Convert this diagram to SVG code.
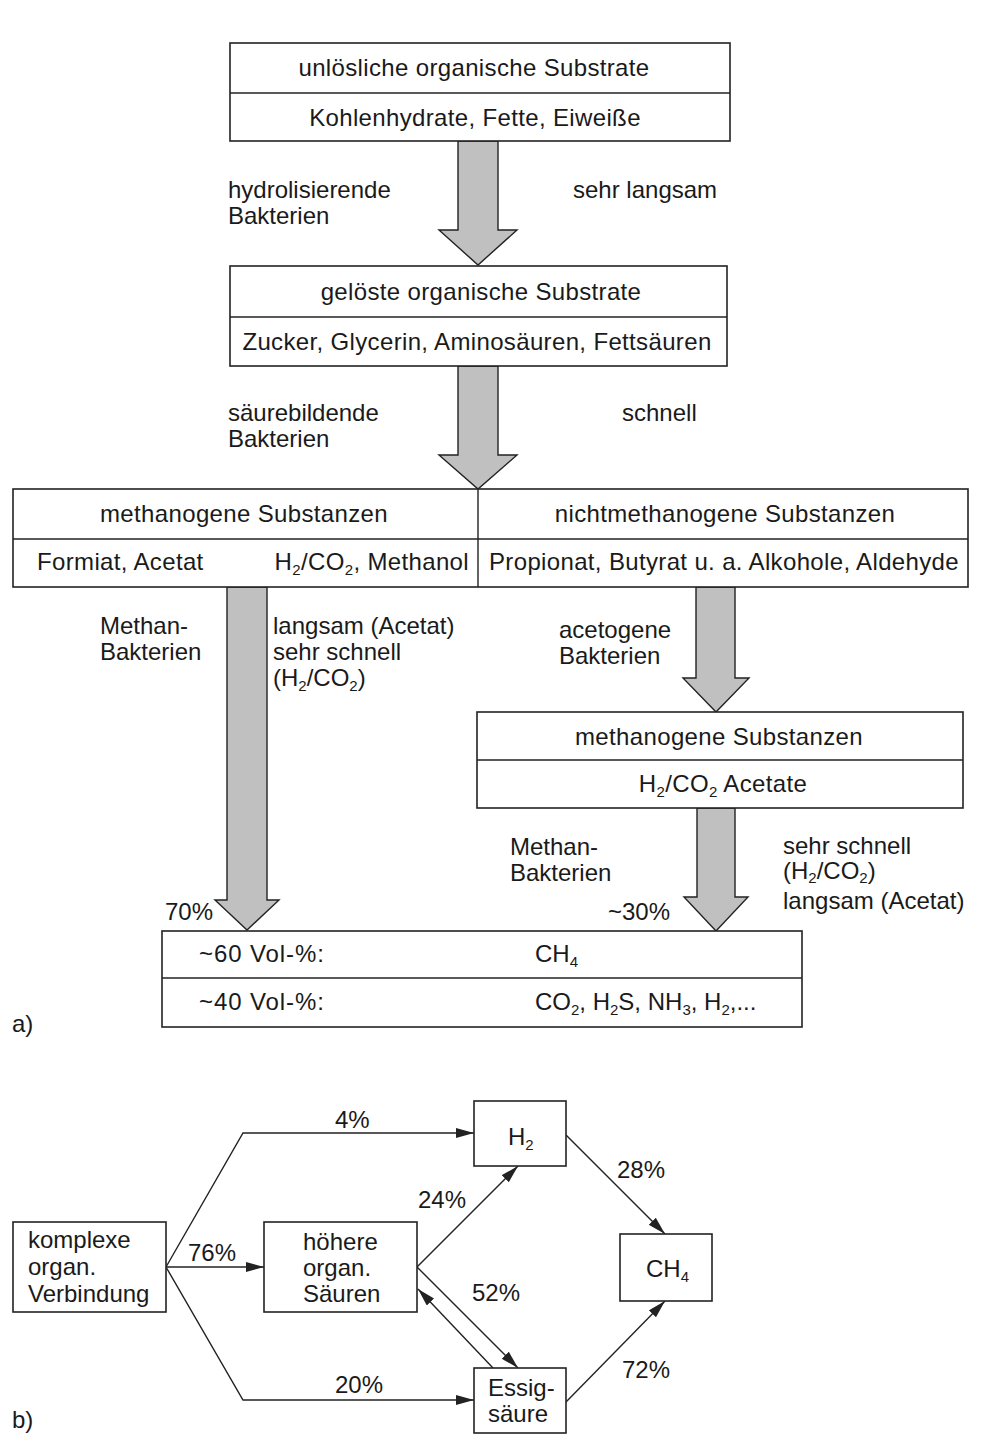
<svg xmlns="http://www.w3.org/2000/svg" width="988" height="1452" viewBox="0 0 988 1452">
  <style>
    text { font-family: "Liberation Sans", Arial, Helvetica, sans-serif; font-size: 24px; fill: #1a1a1a; }
    .c { text-anchor: middle; }
    .e { text-anchor: end; }
    .w { letter-spacing: 0.35px; }
    .vol { letter-spacing: 0.9px; }
    .sub { font-size: 15px; }
    .box { fill: #ffffff; stroke: #222; stroke-width: 1.6; }
    .div { fill: none; stroke: #222; stroke-width: 1.4; }
    .big { fill: #c0c0c0; stroke: #222; stroke-width: 1.4; stroke-linejoin: miter; }
    .link { fill: none; stroke: #222; stroke-width: 1.4; marker-end: url(#head); }
  </style>
  <defs>
    <marker id="head" markerUnits="userSpaceOnUse" markerWidth="20" markerHeight="12" refX="18" refY="5" orient="auto">
      <path d="M0,0 L18,5 L0,10 z" fill="#222"/>
    </marker>
  </defs>
  <rect width="988" height="1452" fill="#ffffff"/>

  <!-- ===== a) ===== -->
  <!-- flow arrows (wide shaded) -->
  <g id="flow-arrows">
    <path class="big" d="M458,141 L498,141 L498,230 L517,230 L478,265 L439,230 L458,230 z"/>
    <path class="big" d="M458,366 L498,366 L498,455 L517,455 L478,489 L439,455 L458,455 z"/>
    <path class="big" d="M227,587 L267,587 L267,900 L279,900 L247,930 L215,900 L227,900 z"/>
    <path class="big" d="M696,587 L735,587 L735,678 L749,678 L716,712 L683,678 L696,678 z"/>
    <path class="big" d="M697,808 L735,808 L735,897 L748,897 L716,931 L684,897 L697,897 z"/>
  </g>

  <g id="node-insoluble">
    <rect class="box" x="230" y="43" width="500" height="98"/>
    <line class="div" x1="230" y1="93" x2="730" y2="93"/>
    <text class="c w" x="474" y="76">unlösliche organische Substrate</text>
    <text class="c w" x="475" y="126">Kohlenhydrate, Fette, Eiweiße</text>
  </g>

  <g id="label-hydrolysis">
    <text x="228" y="198">hydrolisierende</text>
    <text x="228" y="224">Bakterien</text>
    <text x="573" y="198">sehr langsam</text>
  </g>

  <g id="node-dissolved">
    <rect class="box" x="230" y="266" width="497" height="100"/>
    <line class="div" x1="230" y1="317" x2="727" y2="317"/>
    <text class="c w" x="481" y="300">gelöste organische Substrate</text>
    <text class="c w" x="477" y="350">Zucker, Glycerin, Aminosäuren, Fettsäuren</text>
  </g>

  <g id="label-acidogenesis">
    <text x="228" y="421">säurebildende</text>
    <text x="228" y="447">Bakterien</text>
    <text x="622" y="421">schnell</text>
  </g>

  <g id="node-substances">
    <rect class="box" x="13" y="489" width="955" height="98"/>
    <line class="div" x1="13" y1="539" x2="968" y2="539"/>
    <line class="div" x1="478" y1="489" x2="478" y2="587"/>
    <text class="c w" x="244" y="522">methanogene Substanzen</text>
    <text class="c w" x="725" y="522">nichtmethanogene Substanzen</text>
    <text class="w" x="37" y="570">Formiat, Acetat</text>
    <text class="e w" x="469" y="570">H<tspan class="sub" dy="5">2</tspan><tspan dy="-5">/CO</tspan><tspan class="sub" dy="5">2</tspan><tspan dy="-5">, Methanol</tspan></text>
    <text class="c w" x="724" y="570">Propionat, Butyrat u. a. Alkohole, Aldehyde</text>
  </g>

  <g id="label-methan-left">
    <text x="100" y="634">Methan-</text>
    <text x="100" y="660">Bakterien</text>
    <text x="273" y="634">langsam (Acetat)</text>
    <text x="273" y="660">sehr schnell</text>
    <text x="273" y="686">(H<tspan class="sub" dy="5">2</tspan><tspan dy="-5">/CO</tspan><tspan class="sub" dy="5">2</tspan><tspan dy="-5">)</tspan></text>
  </g>

  <g id="label-acetogenesis">
    <text x="559" y="638">acetogene</text>
    <text x="559" y="664">Bakterien</text>
  </g>

  <g id="node-methanogenic">
    <rect class="box" x="477" y="712" width="486" height="96"/>
    <line class="div" x1="477" y1="760" x2="963" y2="760"/>
    <text class="c w" x="719" y="745">methanogene Substanzen</text>
    <text class="c w" x="723" y="792">H<tspan class="sub" dy="5">2</tspan><tspan dy="-5">/CO</tspan><tspan class="sub" dy="5">2</tspan><tspan dy="-5"> Acetate</tspan></text>
  </g>

  <g id="label-methan-right">
    <text x="510" y="855">Methan-</text>
    <text x="510" y="881">Bakterien</text>
    <text x="783" y="854">sehr schnell</text>
    <text x="783" y="879">(H<tspan class="sub" dy="4">2</tspan><tspan dy="-4">/CO</tspan><tspan class="sub" dy="4">2</tspan><tspan dy="-4">)</tspan></text>
    <text x="783" y="909">langsam (Acetat)</text>
    <text x="165" y="920">70%</text>
    <text x="608" y="920">~30%</text>
  </g>

  <g id="node-biogas">
    <rect class="box" x="162" y="931" width="640" height="96"/>
    <line class="div" x1="162" y1="978" x2="802" y2="978"/>
    <text class="vol" x="199" y="962">~60 Vol-%:</text>
    <text x="535" y="962">CH<tspan class="sub" dy="5">4</tspan></text>
    <text class="vol" x="199" y="1010">~40 Vol-%:</text>
    <text x="535" y="1010">CO<tspan class="sub" dy="5">2</tspan><tspan dy="-5">, H</tspan><tspan class="sub" dy="5">2</tspan><tspan dy="-5">S, NH</tspan><tspan class="sub" dy="5">3</tspan><tspan dy="-5">, H</tspan><tspan class="sub" dy="5">2</tspan><tspan dy="-5">,...</tspan></text>
  </g>

  <text x="12" y="1032">a)</text>

  <!-- ===== b) ===== -->
  <g id="connectors">
    <path class="link" d="M166,1267 L243,1133 L474,1133"/>
    <path class="link" d="M166,1267 L264,1267"/>
    <path class="link" d="M166,1267 L243,1400 L474,1400"/>
    <path class="link" d="M417,1267 L518,1166"/>
    <path class="link" d="M417,1267 L518,1368"/>
    <path class="link" d="M493,1368 L418,1289"/>
    <path class="link" d="M566,1135 L665,1234"/>
    <path class="link" d="M566,1402 L665,1301"/>
    <text x="335" y="1128">4%</text>
    <text x="188" y="1261">76%</text>
    <text x="335" y="1393">20%</text>
    <text x="418" y="1208">24%</text>
    <text x="472" y="1301">52%</text>
    <text x="617" y="1178">28%</text>
    <text x="622" y="1378">72%</text>
  </g>

  <g id="node-complex">
    <rect class="box" x="13" y="1222" width="153" height="90"/>
    <text x="28" y="1248">komplexe</text>
    <text x="28" y="1275">organ.</text>
    <text x="28" y="1302">Verbindung</text>
  </g>

  <g id="node-acids">
    <rect class="box" x="264" y="1222" width="153" height="90"/>
    <text x="303" y="1250">höhere</text>
    <text x="303" y="1276">organ.</text>
    <text x="303" y="1302">Säuren</text>
  </g>

  <g id="node-h2">
    <rect class="box" x="474" y="1101" width="92" height="65"/>
    <text x="508" y="1145">H<tspan class="sub" dy="5">2</tspan></text>
  </g>

  <g id="node-ch4">
    <rect class="box" x="620" y="1234" width="92" height="67"/>
    <text x="646" y="1277">CH<tspan class="sub" dy="5">4</tspan></text>
  </g>

  <g id="node-acetic">
    <rect class="box" x="474" y="1368" width="92" height="65"/>
    <text x="488" y="1396">Essig-</text>
    <text x="488" y="1422">säure</text>
  </g>

  <text x="12" y="1428">b)</text>
</svg>
